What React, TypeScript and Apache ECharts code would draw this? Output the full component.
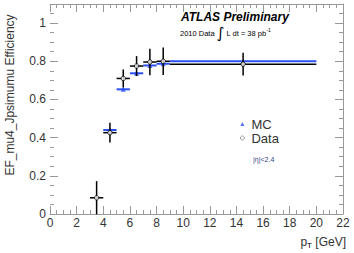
import React, { useEffect, useRef } from "react";
import * as echarts from "echarts";

const dataX = [3.5, 4.5, 5.5, 6.5, 7.5, 8.5, 14.5];
const dataXLow = [3, 4, 5, 6, 7, 8, 9];
const dataXHigh = [4, 5, 6, 7, 8, 9, 20];
const dataY = [0.085, 0.426, 0.71, 0.775, 0.796, 0.8, 0.785];
const dataYErr = [0.087, 0.052, 0.047, 0.052, 0.069, 0.072, 0.06];

const mcX = [4.5, 5.5, 6.5, 7.5, 8.5, 14.5];
const mcXLow = [4, 5, 6, 7, 8, 9];
const mcXHigh = [5, 6, 7, 8, 9, 20];
const mcY = [0.44, 0.653, 0.737, 0.778, 0.787, 0.8];
const mcYErr = [0.006, 0.005, 0.005, 0.005, 0.005, 0.003];

const xTickInterval = 2;
const yTickInterval = 0.2;

const FONT = "Liberation Sans, Arial, Helvetica, sans-serif";
const BLUE = "#2a4ff5";
const AXIS_GRAY = "#999";
const LABEL_COLOR = "#333";

function errorBars(color: string, width: number) {
  return (params: any, api: any) => {
    const x = api.value(0);
    const y = api.value(1);
    const xl = api.value(2);
    const xh = api.value(3);
    const ey = api.value(4);
    const pL = api.coord([xl, y]);
    const pH = api.coord([xh, y]);
    const pT = api.coord([x, y + ey]);
    const pB = api.coord([x, y - ey]);
    return {
      type: "group",
      children: [
        {
          type: "line",
          shape: { x1: pL[0], y1: pL[1], x2: pH[0], y2: pH[1] },
          style: { stroke: color, lineWidth: width },
        },
        {
          type: "line",
          shape: { x1: pT[0], y1: pT[1], x2: pB[0], y2: pB[1] },
          style: { stroke: color, lineWidth: width },
        },
      ],
    };
  };
}

export default function App() {
  const ref = useRef<HTMLDivElement>(null);
  useEffect(() => {
    document.body.style.margin = "0";
    const chart = echarts.init(ref.current!, null, { renderer: "svg" });
    const dataErr = dataX.map((x, i) => [x, dataY[i], dataXLow[i], dataXHigh[i], dataYErr[i]]);
    const mcErr = mcX.map((x, i) => [x, mcY[i], mcXLow[i], mcXHigh[i], mcYErr[i]]);
    const commonX = {
      type: "value",
      min: 0,
      max: 22,
      interval: xTickInterval,
      splitLine: { show: false },
      axisLine: { show: true, onZero: false, lineStyle: { color: AXIS_GRAY, width: 1 } },
      axisTick: { show: true, inside: true, length: 8, lineStyle: { color: AXIS_GRAY } },
      minorTick: { show: true, splitNumber: 4, length: 4, lineStyle: { color: AXIS_GRAY } },
    };
    const commonY = {
      type: "value",
      min: 0,
      max: 1.1,
      interval: yTickInterval,
      splitLine: { show: false },
      axisTick: { show: true, inside: true, length: 8, lineStyle: { color: AXIS_GRAY } },
      minorTick: { show: true, splitNumber: 4, length: 4, lineStyle: { color: AXIS_GRAY } },
    };
    chart.setOption({
      animation: false,
      grid: { left: 50, right: 11, top: 4, bottom: 39, containLabel: false },
      xAxis: [
        {
          ...commonX,
          position: "bottom",
          axisLabel: { show: true, fontSize: 12, color: LABEL_COLOR, fontFamily: FONT, margin: 3 },
        },
        {
          ...commonX,
          position: "top",
          axisLabel: { show: false },
        },
      ],
      yAxis: [
        {
          ...commonY,
          position: "left",
          axisLine: { show: false },
          axisLabel: {
            show: true,
            fontSize: 12,
            color: LABEL_COLOR,
            fontFamily: FONT,
            margin: 4,
            formatter: (v: number) => (v > 1.05 ? "" : String(Math.round(v * 10) / 10)),
          },
        },
        {
          ...commonY,
          position: "right",
          axisLine: { show: true, onZero: false, lineStyle: { color: AXIS_GRAY, width: 1 } },
          axisLabel: { show: false },
        },
      ],
      legend: {
        show: true,
        orient: "vertical",
        left: 240,
        top: 117,
        itemWidth: 4,
        itemHeight: 4,
        itemGap: 0,
        padding: 0,
        data: [
          { name: "MC", icon: "triangle", itemStyle: { color: BLUE, borderWidth: 0 } },
          { name: "Data", icon: "circle", itemStyle: { color: "#fff", borderColor: "#666", borderWidth: 0.8 } },
        ],
        textStyle: { fontSize: 13, color: LABEL_COLOR, fontFamily: FONT, lineHeight: 14, padding: [0, 0, 0, 2] },
      },
      series: [
        {
          type: "custom",
          name: "MC err",
          renderItem: errorBars(BLUE, 2),
          data: mcErr,
          z: 2,
        },
        {
          type: "scatter",
          name: "MC",
          data: mcX.map((x, i) => [x, mcY[i]]),
          symbol: "triangle",
          symbolSize: 5,
          itemStyle: { color: BLUE },
          z: 3,
        },
        {
          type: "custom",
          name: "Data err",
          renderItem: errorBars("#000", 1.5),
          data: dataErr,
          z: 4,
        },
        {
          type: "scatter",
          name: "Data",
          data: dataX.map((x, i) => [x, dataY[i]]),
          symbol: "circle",
          symbolSize: 4.5,
          itemStyle: { color: "#fff", borderColor: "#000", borderWidth: 1 },
          z: 5,
        },
      ],
      graphic: [
        {
          type: "text",
          x: 10,
          y: 95,
          rotation: Math.PI / 2,
          style: {
            text: "EF_mu4_Jpsimumu Efficiency",
            font: `12px ${FONT}`,
            fill: LABEL_COLOR,
            align: "center",
            verticalAlign: "middle",
          },
        },
        {
          type: "text",
          x: 346,
          y: 242,
          style: {
            text: "{p|p}{s|T}{p| [GeV]}",
            align: "right",
            verticalAlign: "middle",
            rich: {
              p: { fontSize: 12, fontFamily: FONT, fill: LABEL_COLOR, color: LABEL_COLOR },
              s: { fontSize: 8, fontFamily: FONT, color: LABEL_COLOR, padding: [7, 0, 0, 0] },
            },
          },
        },
        {
          type: "text",
          x: 181,
          y: 17,
          style: {
            text: "ATLAS Preliminary",
            font: `italic bold 12px ${FONT}`,
            fill: "#000",
            verticalAlign: "middle",
          },
        },
        {
          type: "text",
          x: 180,
          y: 33,
          style: {
            text: "{a|2010 Data }{i|∫}{a| L dt = 38 pb}{u|-1}",
            verticalAlign: "middle",
            rich: {
              a: { fontSize: 7.5, fontFamily: FONT, color: "#222" },
              i: { fontSize: 15, fontFamily: "DejaVu Sans", color: "#222" },
              u: { fontSize: 5, fontFamily: FONT, color: "#222", padding: [0, 0, 6, 0] },
            },
          },
        },
        {
          type: "text",
          x: 253,
          y: 159,
          style: {
            text: "|η|<2.4",
            font: `7px ${FONT}`,
            fill: "#334488",
            verticalAlign: "middle",
          },
        },
      ],
    });
    return () => chart.dispose();
  }, []);
  return <div ref={ref} style={{ width: 354, height: 253 }} />;
}
